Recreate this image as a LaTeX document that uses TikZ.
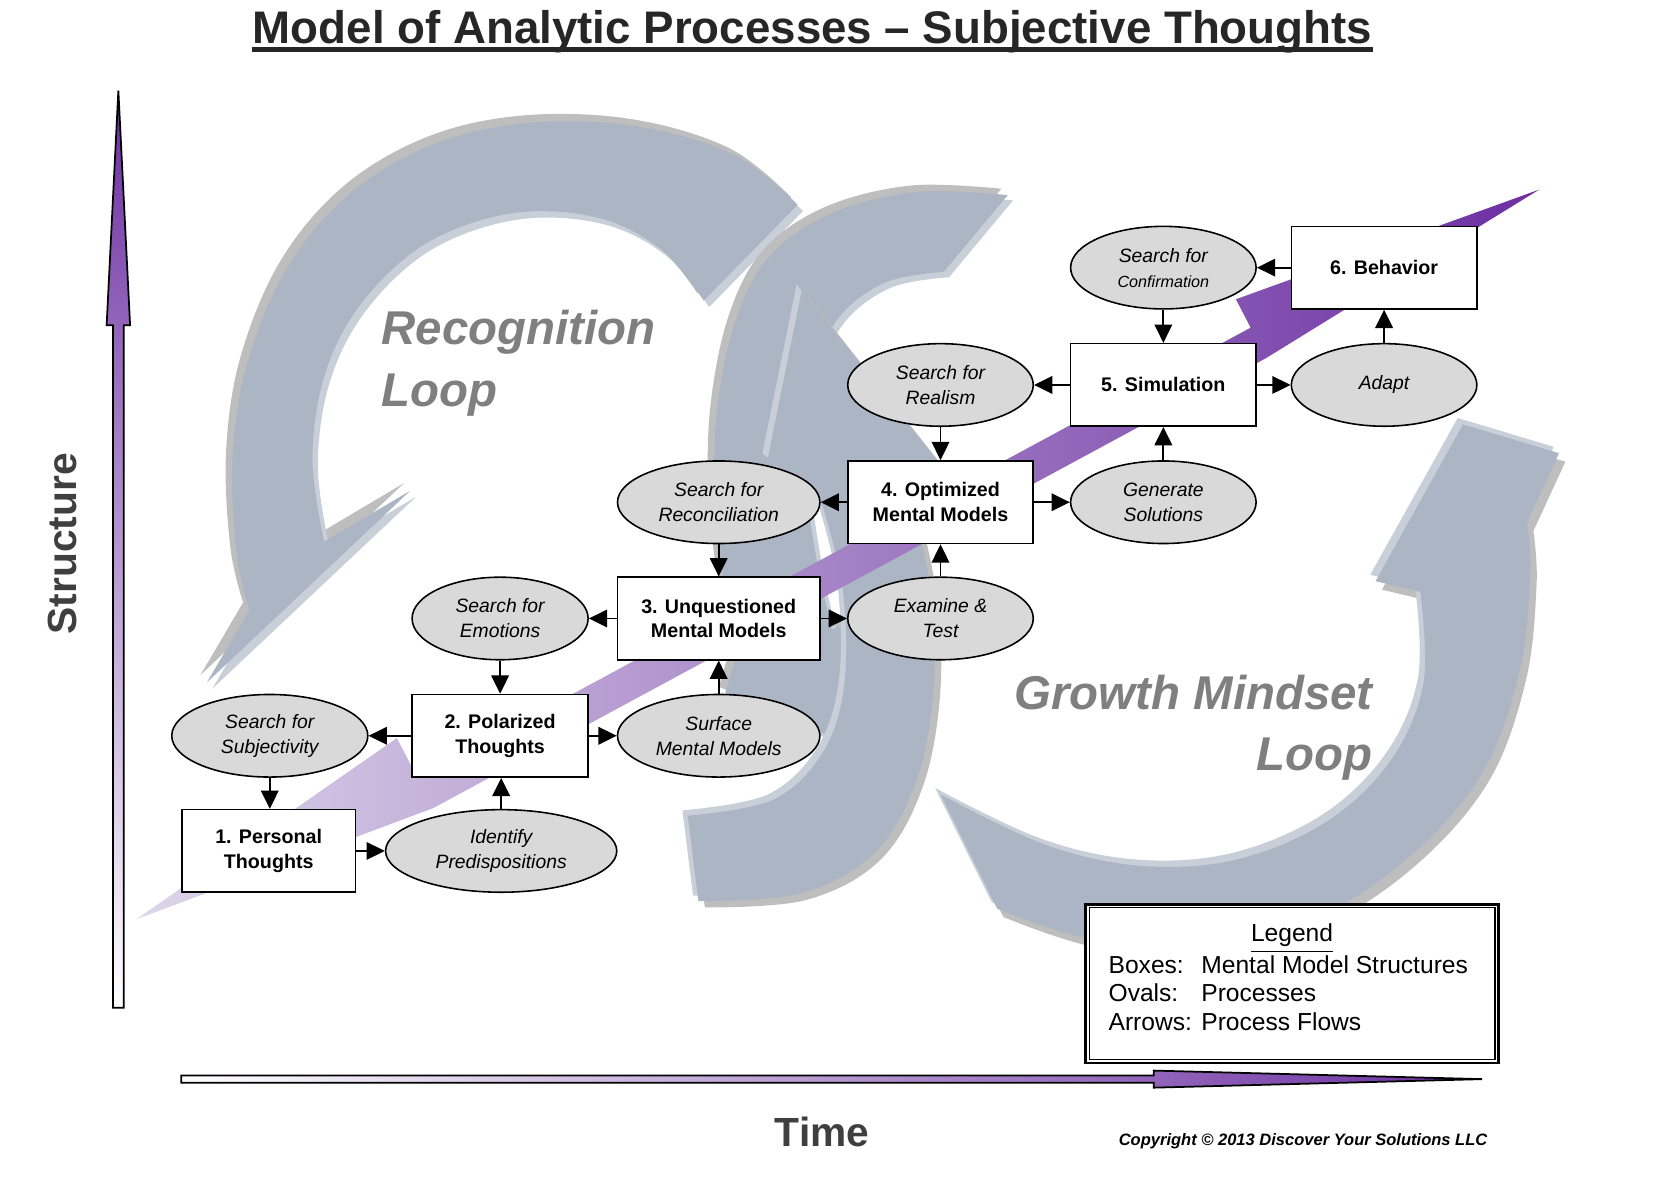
\documentclass[tikz,border=0pt]{standalone}
\usepackage{fontspec}
\setmainfont{Liberation Sans}
\usetikzlibrary{arrows.meta, shapes.geometric, positioning, calc}

\definecolor{loopblue}{HTML}{ABB5C3}
\definecolor{looplight}{HTML}{C8CFD8}
\definecolor{loopgrey}{HTML}{BEBEBE}
\definecolor{ovalgrey}{HTML}{D9D9D9}
\definecolor{purpledark}{HTML}{6C2FA2}
\definecolor{purplelight}{HTML}{DDD6E9}
\definecolor{labelgrey}{HTML}{7F7F7F}
\definecolor{axisgrey}{HTML}{3F3F3F}
\definecolor{titlegrey}{HTML}{262626}

\def\recogpath{plot[smooth, tension=0.6] coordinates {(748,192) (690,146) (600,119) (500,115) (410,134) (330,180) (270,250) (232,340) (218,430) (222,520) (234,572)} -- (194,640) -- (385,460) -- plot[smooth, tension=0.6] coordinates {(304,508) (293,430) (305,350) (340,283) (400,228) (480,200) (560,204) (620,234) (660,282)} -- cycle}
\def\recogbackpath{plot[smooth, tension=0.6] coordinates {(655,845) (750,838) (820,800) (860,730) (876,640) (872,550) (855,470)} -- (885,440) -- (752,272) -- (720,430) -- plot[smooth, tension=0.6] coordinates {(770,470) (790,550) (792,640) (772,705) (725,750) (645,765)} -- cycle}
\def\growthbackpath{plot[smooth, tension=0.6] coordinates {(945,183) (860,180) (780,200) (722,240) (690,300) (673,380) (670,460) (678,540) (695,600)} -- (680,650) -- (850,720) -- (845,570) -- plot[smooth, tension=0.6] coordinates {(780,590) (765,520) (755,440) (760,360) (785,300) (830,265) (885,255)} -- cycle}
\def\growthpath{plot[smooth, tension=0.6] coordinates {(935,852) (1020,880) (1120,886) (1230,862) (1320,805) (1390,725) (1425,630) (1435,540) (1432,490)} -- (1462,425) -- (1372,398) -- (1290,545) -- plot[smooth, tension=0.6] coordinates {(1332,555) (1335,640) (1305,712) (1245,770) (1160,806) (1070,812) (980,792) (882,745)} -- cycle}

\begin{document}
\begin{tikzpicture}[x=0.010663cm, y=-0.010663cm, >={Triangle[length=5.2pt, width=5pt]},
    box/.style={draw, fill=white, line width=0.45pt, minimum height=23.5pt, align=center, inner sep=1pt, font=\fontsize{5.6}{7.1}\selectfont\bfseries},
    oval/.style={draw, ellipse, fill=ovalgrey, line width=0.45pt, minimum height=23.5pt, align=center, inner sep=0pt, font=\fontsize{5.5}{7.1}\selectfont\itshape},
    flow/.style={->, line width=0.5pt},
    looplabel/.style={font=\fontsize{13.5}{17.6}\selectfont\bfseries\itshape, text=labelgrey, inner sep=0pt},
    axislabel/.style={font=\fontsize{11.6}{13}\selectfont\bfseries, text=axisgrey, inner sep=0pt},
    legendtext/.style={font=\fontsize{7}{8.2}\selectfont, inner sep=0pt, anchor=base west},
    loopface/.style={fill=loopblue},
    loopshine/.style={fill=looplight},
    loopside/.style={fill=loopgrey}]
    \useasboundingbox (0,0) rectangle (1568,1110);

    % grey loop arrows
    \fill[loopside, shift={(-6,-7)}] \recogpath;
    \fill[loopshine, shift={(5,6)}] \recogpath;
    \fill[loopface] \recogpath;
    \fill[loopside, shift={(6,8)}] \growthpath;
    \fill[loopshine, shift={(-5,-6)}] \growthpath;
    \fill[loopface] \growthpath;
    \fill[loopside, shift={(-6,-6)}] \growthbackpath;
    \fill[loopshine, shift={(5,5)}] \growthbackpath;
    \fill[loopface] \growthbackpath;
    \fill[loopside, shift={(6,6)}] \recogbackpath;
    \fill[loopshine, shift={(-5,-5)}] \recogbackpath;
    \fill[loopface] \recogbackpath;

    % purple band
    \begin{scope}[shift={(128,862)}, rotate=27.48]
        \shade[left color=purplelight, right color=purpledark] (0,0) -- (295,-38) -- (295,4) -- (1183,-10) -- (1183,-40) -- (1482.7,0) -- (1183,22) -- (295,36) -- cycle;
    \end{scope}

    % axes
    \shadedraw[bottom color=white, top color=purpledark, line width=0.5pt] (106,945) -- (106,305) -- (100,305) -- (111,85) -- (122,305) -- (116,305) -- (116,945) -- cycle;
    \shadedraw[left color=white, right color=purpledark, line width=0.5pt] (170,1008.5) -- (1082,1008.5) -- (1082,1004) -- (1390,1012) -- (1082,1020) -- (1082,1015.5) -- (170,1015.5) -- cycle;

    \node[font=\fontsize{13}{15}\selectfont\bfseries, text=titlegrey, inner sep=0pt, anchor=base] (title) at (762,40.5) {Model of Analytic Processes -- Subjective Thoughts};
    \draw[line width=1.4pt, titlegrey] ($(title.base west)+(0,6)$) -- ($(title.base east)+(0,6)$);

    \node[axislabel, rotate=90, anchor=base] (structure) at (72,510) {Structure};
    \node[axislabel, anchor=base] (time) at (771,1075) {Time};
    \node[font=\fontsize{4.7}{5}\selectfont\bfseries\itshape, inner sep=0pt, anchor=base] (copyright) at (1222,1074) {Copyright \textcopyright{} 2013 Discover Your Solutions LLC};

    \node[looplabel, anchor=north west, align=left] (recog) at (357,290) {Recognition\\Loop};
    \node[looplabel, anchor=north east, align=right] (growth) at (1288,632) {Growth Mindset\\Loop};

    % boxes
    \node[box, minimum width=49.5pt] (personal) at (252,798) {1. Personal\\Thoughts};
    \node[box, minimum width=50.1pt] (polarized) at (469,690) {2. Polarized\\Thoughts};
    \node[box, minimum width=57.6pt] (unquest) at (674,580) {3. Unquestioned\\Mental Models};
    \node[box, minimum width=52.8pt] (optim) at (882,471) {4. Optimized\\Mental Models};
    \node[box, minimum width=52.8pt] (simul) at (1091,361) {5. Simulation};
    \node[box, minimum width=52.8pt] (behav) at (1298,251) {6. Behavior};

    % ovals
    \node[oval, minimum width=55.8pt] (subject) at (253,690) {Search for\\Subjectivity};
    \node[oval, minimum width=65.8pt] (predisp) at (470,798) {Identify\\Predispositions};
    \node[oval, minimum width=50.1pt] (emotion) at (469,580) {Search for\\Emotions};
    \node[oval, minimum width=57.6pt] (surface) at (674,690) {Surface\\Mental Models};
    \node[oval, minimum width=57.6pt] (reconcile) at (674,471) {Search for\\Reconciliation};
    \node[oval, minimum width=52.8pt] (examine) at (882,580) {Examine \&\\Test};
    \node[oval, minimum width=52.8pt] (realism) at (882,361) {Search for\\Realism};
    \node[oval, minimum width=52.8pt] (generate) at (1091,471) {Generate\\Solutions};
    \node[oval, minimum width=52.8pt] (confirm) at (1091,251) {Search for\\{\fontsize{4.6}{7.1}\selectfont Confirmation}};
    \node[oval, minimum width=52.8pt] (adapt) at (1298,361) {Adapt};

    \draw[flow] (subject.south) -- (subject.south |- personal.north);
    \draw[flow] (personal.east) -- (predisp.west);
    \draw[flow] (predisp.north) -- (predisp.north |- polarized.south);
    \draw[flow] (polarized.west) -- (subject.east);
    \draw[flow] (emotion.south) -- (emotion.south |- polarized.north);
    \draw[flow] (polarized.east) -- (surface.west);
    \draw[flow] (surface.north) -- (surface.north |- unquest.south);
    \draw[flow] (unquest.west) -- (emotion.east);
    \draw[flow] (reconcile.south) -- (reconcile.south |- unquest.north);
    \draw[flow] (unquest.east) -- (examine.west);
    \draw[flow] (examine.north) -- (examine.north |- optim.south);
    \draw[flow] (optim.west) -- (reconcile.east);
    \draw[flow] (realism.south) -- (realism.south |- optim.north);
    \draw[flow] (optim.east) -- (generate.west);
    \draw[flow] (generate.north) -- (generate.north |- simul.south);
    \draw[flow] (simul.west) -- (realism.east);
    \draw[flow] (confirm.south) -- (confirm.south |- simul.north);
    \draw[flow] (simul.east) -- (adapt.west);
    \draw[flow] (adapt.north) -- (adapt.north |- behav.south);
    \draw[flow] (behav.west) -- (confirm.east);

    % legend
    \node[draw, fill=white, line width=0.75pt, minimum width=117.4pt, minimum height=45.2pt] (legend) at (1211.7,922.5) {};
    \draw[line width=0.4pt] ([shift={(4.5,4.5)}]legend.north west) rectangle ([shift={(-4.5,-4.5)}]legend.south east);
    \node[legendtext, anchor=base] (legendhead) at (1211.7,883) {\underline{Legend}};
    \node[legendtext] (keyboxes) at (1039,912.7) {Boxes:};
    \node[legendtext] (valboxes) at (1126,912.7) {Mental Model Structures};
    \node[legendtext] (keyovals) at (1039,939.4) {Ovals:};
    \node[legendtext] (valovals) at (1126,939.4) {Processes};
    \node[legendtext] (keyarrows) at (1039,966) {Arrows:};
    \node[legendtext] (valarrows) at (1126,966) {Process Flows};
\end{tikzpicture}
\end{document}
